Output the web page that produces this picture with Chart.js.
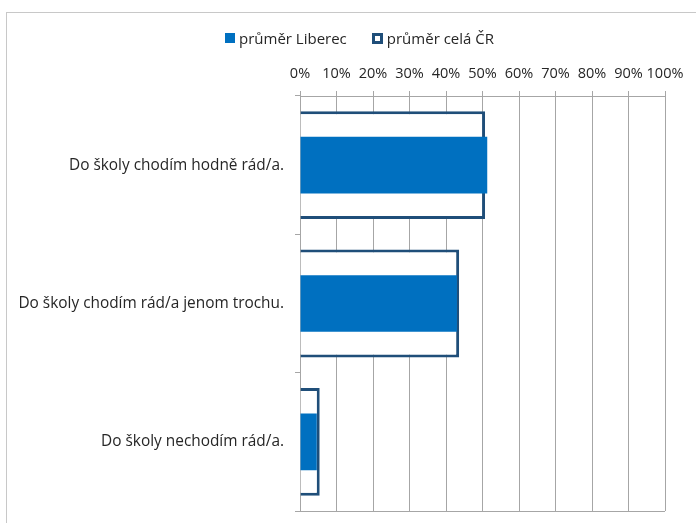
<!DOCTYPE html>
<html>
<head>
<meta charset="utf-8">
<script src="https://cdn.jsdelivr.net/npm/chart.js@4"></script>
<style>
  html, body { margin: 0; padding: 0; background: #fff; }
  #wrap { position: relative; width: 696px; height: 523px; overflow: hidden; }
  #frame { position: absolute; left: 6px; top: 12px; width: 720px; height: 540px; border-left: 1px solid #c8c8c8; border-top: 1px solid #c8c8c8; box-sizing: border-box; }
  canvas { position: absolute; left: 0; top: 0; }
  #legend { position: absolute; top: 28px; left: 225px; font-family: "Open Sans", sans-serif; font-size: 15px; color: #262626; display: flex; align-items: center; white-space: nowrap; }
  .item { display: flex; align-items: center; margin-right: 25px; }
  .sw { width: 10px; height: 10px; box-sizing: border-box; margin-right: 4px; }
</style>
</head>
<body>
<div id="wrap">
  <div id="frame"></div>
  <canvas id="c" width="696" height="523"></canvas>
  <div id="legend"></div>
</div>
<script>
const categories = ["Do školy chodím hodně rád/a.", "Do školy chodím rád/a jenom trochu.", "Do školy nechodím rád/a."];
const seriesNames = ["průměr Liberec", "průměr celá ČR"];
const liberec = [51.3, 43.0, 4.6];
const celaCR = [50.7, 43.6, 5.4];
const tickValues = [0, 10, 20, 30, 40, 50, 60, 70, 80, 90, 100];

const fillColor = "#0070C0";
const outlineColor = "#1F4E79";
const gridColor = "#A6A6A6";
const tickFont = { family: "'Open Sans', sans-serif", size: 14.5 };
const catFont = { family: "'Open Sans', sans-serif", size: 15.4 };

// HTML legend
const lg = document.getElementById('legend');
lg.innerHTML =
  '<div class="item"><div class="sw" style="background:' + fillColor + '"></div>' + seriesNames[0] + '</div>' +
  '<div class="item" style="margin-right:0"><div class="sw" style="background:#fff;border:3px solid ' + outlineColor + ';width:11px;height:11px"></div>' + seriesNames[1] + '</div>';

const bottomLine = {
  id: 'bottomLine',
  afterDraw(chart) {
    const a = chart.chartArea, ctx = chart.ctx;
    ctx.save();
    ctx.strokeStyle = gridColor;
    ctx.lineWidth = 1;
    ctx.beginPath();
    ctx.moveTo(a.left - 5, Math.round(a.bottom) + 0.5);
    ctx.lineTo(a.right, Math.round(a.bottom) + 0.5);
    ctx.stroke();
    ctx.restore();
  }
};

new Chart(document.getElementById('c'), {
  type: 'bar',
  data: {
    labels: categories,
    datasets: [
      { label: seriesNames[0], data: liberec, backgroundColor: fillColor, borderWidth: 0,
        barPercentage: 0.41, categoryPercentage: 1 },
      { label: seriesNames[1], data: celaCR, backgroundColor: '#ffffff', borderColor: outlineColor, borderWidth: 3,
        barPercentage: 0.78, categoryPercentage: 1 }
    ]
  },
  options: {
    indexAxis: 'y',
    responsive: false,
    animation: false,
    devicePixelRatio: 1,
    layout: { padding: { left: 0, right: 31, top: 50, bottom: 12 } },
    plugins: { legend: { display: false }, tooltip: { enabled: false } },
    scales: {
      x: {
        position: 'top',
        min: 0, max: 100,
        afterBuildTicks(scale) { scale.ticks = tickValues.map(v => ({ value: v })); },
        afterFit(scale) { scale.height = 46; },
        ticks: { font: tickFont, color: '#262626', padding: 8, maxRotation: 0, autoSkip: false,
                 callback: v => v + '%' },
        grid: { color: gridColor, lineWidth: 1, tickLength: 5 },
        border: { color: gridColor }
      },
      y: {
        stacked: true,
        afterFit(scale) { scale.width = 300; scale.paddingTop = 0; scale.paddingBottom = 0; },
        ticks: { font: catFont, color: '#262626', padding: 11 },
        grid: { offset: true, drawOnChartArea: false, color: gridColor, tickLength: 5 },
        border: { color: gridColor }
      }
    }
  },
  plugins: [bottomLine]
});
</script>
</body>
</html>
